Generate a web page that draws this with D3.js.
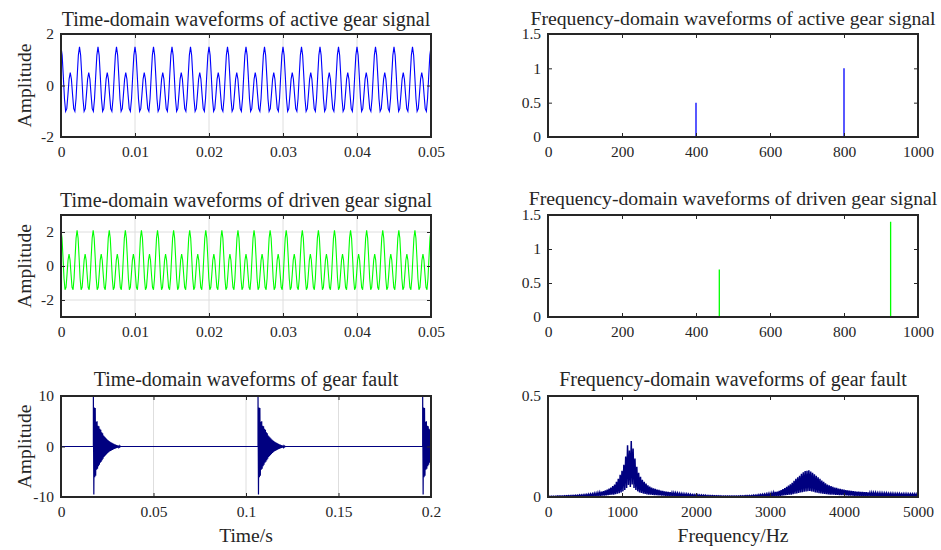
<!DOCTYPE html>
<html>
<head>
<meta charset="utf-8">
<script src="https://cdn.jsdelivr.net/npm/d3@7"></script>
<style>
  body { margin: 0; background: #fff; }
</style>
</head>
<body>
<div id="chart"></div>
<script>

// ---- data ----

// one period of each gear signal (samples), repeated over the record
const activeCycle = [1.5, 1.169, 0.354, -0.516, -1, -0.898, -0.354, 0.245, 0.5, 0.245, -0.354, -0.898, -1, -0.516, 0.354, 1.169];
const activeCycles = 20;
const drivenCycle = [2.1, 1.637, 0.495, -0.722, -1.4, -1.257, -0.495, 0.343, 0.7, 0.343, -0.495, -1.257, -1.4, -0.722, 0.495, 1.637];
const drivenCycles = 23;
const gearTimeEnd = 0.05;

// spectral lines
const activeSpikeFreq = [400, 800];
const activeSpikeAmp = [0.5, 1];
const drivenSpikeFreq = [463, 926];
const drivenSpikeAmp = [0.7, 1.4];
const gearFreqEnd = 1000;

// gear fault impulses
const faultStarts = [0.0175, 0.1065, 0.1955];
const faultBurstStep = 0.00025;
const faultBurst = [10, -9.5, 7.7, -6.1, 7.6, -5.8, 4.9, -4.6, 5.0, -4.4, 4.1, -3.9, 4.0, -3.6, 3.5, -3.2,
  3.3, -3.0, 2.8, -2.7, 2.6, -2.4, 2.2, -2.1, 2.0, -1.9, 1.8, -1.7, 1.6, -1.5, 1.4, -1.3, 1.25, -1.15,
  1.1, -1.0, 0.95, -0.9, 0.85, -0.8, 0.72, -0.68, 0.62, -0.58, 0.52, -0.49, 0.44, -0.41, 0.37, -0.34,
  0.3, -0.27, 0.24, -0.21, 0.18, -0.15, 0.12, -0.09, 0.06, -0.03, 0];
const faultTimeEnd = 0.2;

// gear fault spectrum: comb tops every 25 Hz, comb dips halfway between
const faultSpecStep = 25;
const faultSpecHigh = [
  0.003, 0.003, 0.004, 0.004, 0.004, 0.005, 0.005, 0.005, 0.005, 0.006,
  0.006, 0.007, 0.007, 0.008, 0.008, 0.009, 0.009, 0.010, 0.010, 0.011,
  0.012, 0.013, 0.014, 0.015, 0.016, 0.018, 0.019, 0.021, 0.023, 0.026,
  0.029, 0.033, 0.037, 0.042, 0.047, 0.054, 0.062, 0.075, 0.090, 0.110,
  0.130, 0.160, 0.200, 0.256, 0.230, 0.277, 0.240, 0.190, 0.150, 0.120,
  0.100, 0.085, 0.075, 0.066, 0.058, 0.052, 0.047, 0.043, 0.040, 0.037,
  0.035, 0.032, 0.030, 0.028, 0.026, 0.025, 0.024, 0.022, 0.021, 0.020,
  0.019, 0.018, 0.017, 0.016, 0.015, 0.015, 0.014, 0.013, 0.012, 0.012,
  0.011, 0.011, 0.010, 0.010, 0.009, 0.009, 0.008, 0.008, 0.007, 0.007,
  0.006, 0.006, 0.006, 0.006, 0.005, 0.005, 0.005, 0.005, 0.005, 0.005,
  0.005, 0.005, 0.005, 0.005, 0.006, 0.006, 0.006, 0.007, 0.007, 0.008,
  0.008, 0.009, 0.009, 0.010, 0.011, 0.012, 0.013, 0.014, 0.015, 0.017,
  0.018, 0.020, 0.022, 0.025, 0.027, 0.030, 0.034, 0.039, 0.044, 0.050,
  0.056, 0.063, 0.070, 0.080, 0.090, 0.098, 0.105, 0.115, 0.122, 0.128,
  0.130, 0.132, 0.126, 0.120, 0.113, 0.105, 0.098, 0.090, 0.082, 0.075,
  0.068, 0.062, 0.058, 0.054, 0.050, 0.047, 0.045, 0.042, 0.040, 0.038,
  0.036, 0.034, 0.033, 0.031, 0.030, 0.029, 0.028, 0.027, 0.026, 0.025,
  0.025, 0.024, 0.024, 0.023, 0.022, 0.022, 0.021, 0.021, 0.020, 0.020,
  0.020, 0.019, 0.019, 0.019, 0.018, 0.018, 0.018, 0.017, 0.017, 0.017,
  0.017, 0.016, 0.016, 0.016, 0.016, 0.015, 0.015, 0.015, 0.015, 0.015,
  0.015];
const faultSpecLow = [
  0.001, 0.001, 0.001, 0.001, 0.001, 0.002, 0.002, 0.002, 0.002, 0.002,
  0.002, 0.002, 0.002, 0.003, 0.003, 0.003, 0.003, 0.003, 0.003, 0.003,
  0.003, 0.004, 0.004, 0.004, 0.005, 0.005, 0.005, 0.006, 0.006, 0.007,
  0.007, 0.008, 0.009, 0.010, 0.011, 0.012, 0.014, 0.016, 0.019, 0.023,
  0.028, 0.035, 0.045, 0.060, 0.050, 0.062, 0.045, 0.035, 0.028, 0.023,
  0.020, 0.017, 0.015, 0.013, 0.012, 0.011, 0.010, 0.009, 0.009, 0.008,
  0.008, 0.007, 0.007, 0.006, 0.006, 0.005, 0.005, 0.005, 0.005, 0.004,
  0.004, 0.004, 0.004, 0.003, 0.003, 0.003, 0.003, 0.003, 0.003, 0.003,
  0.002, 0.002, 0.002, 0.002, 0.002, 0.002, 0.002, 0.002, 0.002, 0.002,
  0.002, 0.002, 0.001, 0.001, 0.001, 0.001, 0.001, 0.001, 0.001, 0.001,
  0.001, 0.001, 0.001, 0.001, 0.001, 0.001, 0.002, 0.002, 0.002, 0.002,
  0.002, 0.002, 0.002, 0.002, 0.002, 0.003, 0.003, 0.003, 0.003, 0.004,
  0.004, 0.004, 0.005, 0.005, 0.006, 0.006, 0.007, 0.008, 0.009, 0.010,
  0.011, 0.012, 0.014, 0.016, 0.018, 0.020, 0.022, 0.024, 0.026, 0.028,
  0.029, 0.030, 0.028, 0.026, 0.023, 0.021, 0.019, 0.018, 0.016, 0.015,
  0.014, 0.013, 0.012, 0.011, 0.011, 0.010, 0.010, 0.009, 0.009, 0.009,
  0.008, 0.008, 0.007, 0.007, 0.007, 0.006, 0.006, 0.006, 0.006, 0.005,
  0.005, 0.005, 0.005, 0.005, 0.005, 0.004, 0.004, 0.004, 0.004, 0.004,
  0.004, 0.004, 0.004, 0.004, 0.004, 0.004, 0.004, 0.004, 0.004, 0.004,
  0.004, 0.004, 0.003, 0.003, 0.003, 0.003, 0.003, 0.003, 0.003, 0.003];

/*
  BUILD THE SERIES
*/
function tileCycle(cycle, n, tEnd) {
  const pts = [];
  const total = cycle.length * n;
  for (let c = 0; c < n; c++) {
    cycle.forEach(function (v, k) {
      pts.push({ x: (c * cycle.length + k) / total * tEnd, y: v });
    });
  }
  pts.push({ x: tEnd, y: cycle[0] });
  return pts;
}

function spikeSeries(freqs, amps, fEnd) {
  const pts = [{ x: 0, y: 0 }];
  freqs.forEach(function (f, i) {
    pts.push({ x: f, y: 0 }, { x: f, y: amps[i] }, { x: f, y: 0 });
  });
  pts.push({ x: fEnd, y: 0 });
  return pts;
}

const faultTime = [{ x: 0, y: 0 }];
faultStarts.forEach(function (s) {
  faultTime.push({ x: s, y: 0 });
  faultBurst.forEach(function (v, i) {
    faultTime.push({ x: s + i * faultBurstStep, y: v });
  });
});

const faultSpec = [];
faultSpecHigh.forEach(function (h, i) {
  faultSpec.push({ x: i * faultSpecStep, y: h });
  if (i < faultSpecLow.length) {
    faultSpec.push({ x: i * faultSpecStep + faultSpecStep / 2, y: faultSpecLow[i] });
  }
});

/*
  SVG CANVAS
*/
const width = 941;
const height = 550;
const serif = "'Liberation Serif', 'Times New Roman', serif";
const ink = "#262626";

const svg = d3.select("#chart")
  .append("svg")
  .attr("width", width)
  .attr("height", height)
  .attr("font-family", serif);

const cols = [{ x0: 61, x1: 431 }, { x0: 548, x1: 918 }];
const rows = [{ y0: 34, y1: 137 }, { y0: 215, y1: 317 }, { y0: 396, y1: 497 }];

const panels = [
  { col: 0, row: 0, title: "Time-domain waveforms of active gear signal", titleY: 26, titleSize: 20,
    data: tileCycle(activeCycle, activeCycles, gearTimeEnd), color: "#0000ff", lw: 1.1,
    xDomain: [0, 0.05], xTicks: [0, 0.01, 0.02, 0.03, 0.04, 0.05],
    yDomain: [-2, 2], yTicks: [-2, 0, 2], grid: true, yLabel: "Amplitude" },
  { col: 1, row: 0, title: "Frequency-domain waveforms of active gear signal", titleY: 24.5, titleSize: 19.7,
    data: spikeSeries(activeSpikeFreq, activeSpikeAmp, gearFreqEnd), color: "#0000ff", lw: 1.3,
    xDomain: [0, 1000], xTicks: [0, 200, 400, 600, 800, 1000],
    yDomain: [0, 1.5], yTicks: [0, 0.5, 1, 1.5], grid: false },
  { col: 0, row: 1, title: "Time-domain waveforms of driven gear signal", titleY: 206.5, titleSize: 20,
    data: tileCycle(drivenCycle, drivenCycles, gearTimeEnd), color: "#00ff00", lw: 1.1,
    xDomain: [0, 0.05], xTicks: [0, 0.01, 0.02, 0.03, 0.04, 0.05],
    yDomain: [-3, 3], yTicks: [-2, 0, 2], grid: true, yLabel: "Amplitude" },
  { col: 1, row: 1, title: "Frequency-domain waveforms of driven gear signal", titleY: 205, titleSize: 19.7,
    data: spikeSeries(drivenSpikeFreq, drivenSpikeAmp, gearFreqEnd), color: "#00ff00", lw: 1.3,
    xDomain: [0, 1000], xTicks: [0, 200, 400, 600, 800, 1000],
    yDomain: [0, 1.5], yTicks: [0, 0.5, 1, 1.5], grid: false },
  { col: 0, row: 2, title: "Time-domain waveforms of gear fault", titleY: 386, titleSize: 20,
    data: faultTime, color: "#000080", lw: 1.2,
    xDomain: [0, faultTimeEnd], xTicks: [0, 0.05, 0.1, 0.15, 0.2],
    yDomain: [-10, 10], yTicks: [-10, 0, 10], grid: true, yLabel: "Amplitude", xLabel: "Time/s" },
  { col: 1, row: 2, title: "Frequency-domain waveforms of gear fault", titleY: 386, titleSize: 20,
    data: faultSpec, color: "#000080", lw: 1.5,
    xDomain: [0, 5000], xTicks: [0, 1000, 2000, 3000, 4000, 5000],
    yDomain: [0, 0.5], yTicks: [0, 0.5], grid: false, xLabel: "Frequency/Hz" }
];

const fmt = function (d) { return String(+d.toFixed(4)); };

panels.forEach(function (p, idx) {
  const c = cols[p.col];
  const r = rows[p.row];
  const xScale = d3.scaleLinear().domain(p.xDomain).range([c.x0, c.x1]);
  const yScale = d3.scaleLinear().domain(p.yDomain).range([r.y1, r.y0]);
  const g = svg.append("g");

  svg.append("clipPath")
    .attr("id", "clip" + idx)
    .append("rect")
    .attr("x", c.x0).attr("y", r.y0 - 1)
    .attr("width", c.x1 - c.x0).attr("height", r.y1 - r.y0 + 2);

  // grid
  if (p.grid) {
    g.selectAll(".vgrid")
      .data(p.xTicks.slice(1, -1))
      .enter().append("line")
      .attr("x1", function (d) { return xScale(d); })
      .attr("x2", function (d) { return xScale(d); })
      .attr("y1", r.y0).attr("y2", r.y1)
      .attr("stroke", "#dedede").attr("stroke-width", 1);
    g.selectAll(".hgrid")
      .data(p.yTicks.filter(function (d) { return yScale(d) > r.y0 + 1 && yScale(d) < r.y1 - 1; }))
      .enter().append("line")
      .attr("x1", c.x0).attr("x2", c.x1)
      .attr("y1", function (d) { return yScale(d); })
      .attr("y2", function (d) { return yScale(d); })
      .attr("stroke", "#dedede").attr("stroke-width", 1);
  }

  // the signal
  const line = d3.line()
    .x(function (d) { return xScale(d.x); })
    .y(function (d) { return yScale(d.y); });

  g.append("path")
    .datum(p.data)
    .attr("d", line)
    .attr("clip-path", "url(#clip" + idx + ")")
    .attr("fill", "none")
    .attr("stroke", p.color)
    .attr("stroke-width", p.lw);

  // axes with inward ticks
  g.append("g")
    .attr("transform", `translate(0,${r.y1})`)
    .call(d3.axisBottom(xScale).tickValues(p.xTicks).tickFormat(fmt).tickSize(-4).tickPadding(9));
  g.append("g")
    .attr("transform", `translate(${c.x0},0)`)
    .call(d3.axisLeft(yScale).tickValues(p.yTicks).tickFormat(fmt).tickSize(-4).tickPadding(7));
  g.append("g")
    .attr("transform", `translate(0,${r.y0})`)
    .call(d3.axisTop(xScale).tickValues(p.xTicks).tickFormat("").tickSize(-4));
  g.append("g")
    .attr("transform", `translate(${c.x1},0)`)
    .call(d3.axisRight(yScale).tickValues(p.yTicks).tickFormat("").tickSize(-4));

  g.selectAll(".domain").remove();
  g.selectAll("g").attr("font-family", serif);
  g.selectAll(".tick line").attr("stroke", ink).attr("stroke-width", 1);
  g.selectAll(".tick text")
    .attr("font-family", serif)
    .attr("font-size", 15.5)
    .attr("fill", ink);

  // box
  g.append("rect")
    .attr("x", c.x0).attr("y", r.y0)
    .attr("width", c.x1 - c.x0).attr("height", r.y1 - r.y0)
    .attr("fill", "none")
    .attr("stroke", ink)
    .attr("stroke-width", 2);

  // titles and labels
  g.append("text")
    .attr("x", (c.x0 + c.x1) / 2)
    .attr("y", p.titleY)
    .attr("text-anchor", "middle")
    .attr("font-family", serif)
    .attr("font-size", p.titleSize)
    .attr("fill", ink)
    .text(p.title);

  if (p.yLabel) {
    g.append("text")
      .attr("transform", `translate(31,${(r.y0 + r.y1) / 2}) rotate(-90)`)
      .attr("text-anchor", "middle")
      .attr("font-family", serif)
      .attr("font-size", 19.6)
      .attr("fill", ink)
      .text(p.yLabel);
  }
  if (p.xLabel) {
    g.append("text")
      .attr("x", (c.x0 + c.x1) / 2)
      .attr("y", 542)
      .attr("text-anchor", "middle")
      .attr("font-family", serif)
      .attr("font-size", 19.6)
      .attr("fill", ink)
      .text(p.xLabel);
  }
});

</script>
</body>
</html>
